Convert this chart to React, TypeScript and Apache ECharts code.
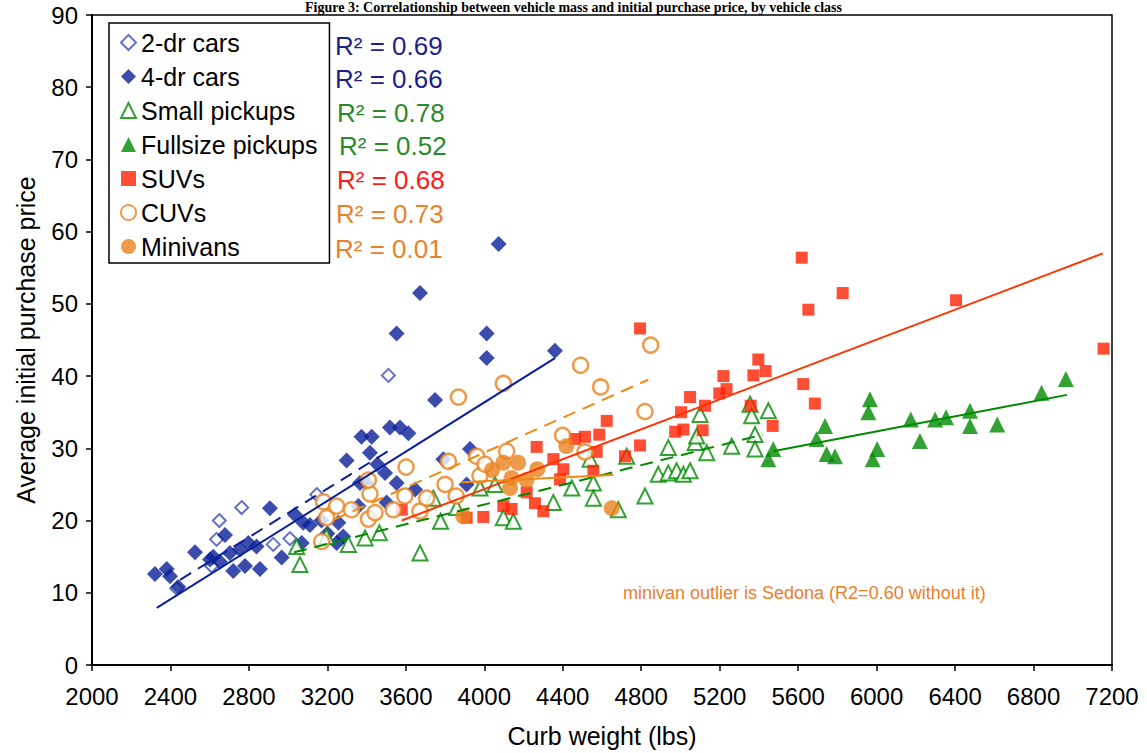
import React, { useEffect, useRef } from "react";
import * as echarts from "echarts";

// ---------- data ----------
const seriesNames = ["2-dr cars", "4-dr cars", "Small pickups", "Fullsize pickups", "SUVs", "CUVs", "Minivans"];

const cars2dr: number[][] = [
  [2432, 10.6], [2610, 13.7], [2635, 17.4], [2649, 20.0], [2763, 21.8], [2924, 16.7],
  [3009, 17.5], [3146, 23.6], [3511, 40.1],
];

const cars4dr: number[][] = [
  [2321, 12.6], [2381, 13.3], [2398, 12.3], [2440, 10.8], [2525, 15.6], [2602, 14.6],
  [2618, 15.0], [2652, 14.3], [2678, 18.0], [2703, 15.5], [2720, 13.0], [2754, 16.0],
  [2780, 13.7], [2797, 16.9], [2839, 16.4], [2856, 13.3], [2907, 21.7], [2967, 14.9],
  [3035, 20.8], [3077, 19.7], [3111, 19.4], [3069, 16.9], [3170, 20.0], [3200, 18.2],
  [3247, 16.9], [3256, 19.7], [3281, 17.8], [3298, 28.3], [3358, 22.0], [3366, 25.2],
  [3374, 31.6], [3426, 31.6], [3400, 25.2], [3417, 29.4], [3455, 27.8], [3494, 26.6],
  [3502, 22.5], [3519, 32.9], [3553, 25.2], [3570, 32.9], [3613, 32.1], [3647, 24.3],
  [3749, 36.7], [3791, 28.5], [3910, 25.0], [3927, 29.9], [3553, 45.9], [3672, 51.5],
  [4012, 45.9], [4012, 42.5], [4073, 58.3], [4360, 43.5],
];

const smallPickups: number[][] = [
  [3043, 16.4], [3060, 13.9], [3196, 17.8], [3307, 16.7], [3392, 17.6], [3465, 18.3],
  [3672, 15.5], [3740, 23.1], [3777, 19.9], [3859, 21.8], [3978, 24.5], [4054, 25.0],
  [4097, 20.4], [4148, 19.9], [4352, 22.5], [4446, 24.5], [4556, 25.2], [4539, 28.5],
  [4556, 23.1], [4683, 21.5], [4726, 28.9], [4819, 23.4], [4887, 26.4], [4938, 26.6],
  [4938, 30.1], [4980, 26.9], [5015, 26.4], [5049, 26.9], [5075, 30.8], [5083, 31.7],
  [5100, 34.7], [5134, 29.4], [5261, 30.3], [5355, 36.1], [5363, 34.5], [5380, 31.9],
  [5380, 29.9], [5448, 35.2],
];

const fullsizePickups: number[][] = [
  [5448, 28.5], [5473, 29.9], [5694, 31.3], [5737, 33.1], [5745, 29.2], [5788, 28.9],
  [5958, 35.0], [5966, 36.8], [5980, 28.5], [6003, 29.9], [6174, 34.0], [6221, 31.0],
  [6298, 34.0], [6354, 34.3], [6476, 35.2], [6476, 33.1], [6615, 33.3], [6841, 37.7],
  [6965, 39.6],
];

const suvs: number[][] = [
  [3579, 21.5], [3910, 20.4], [3995, 20.5], [4097, 22.0], [4139, 21.6], [4216, 23.9],
  [4258, 22.4], [4301, 21.3], [4267, 30.2], [4352, 28.5], [4386, 25.7], [4403, 27.1],
  [4462, 31.3], [4513, 31.6], [4556, 26.9], [4573, 29.5], [4586, 31.9], [4624, 33.8],
  [4717, 28.9], [4794, 30.4], [4794, 46.6], [4973, 32.3], [5003, 35.0], [5015, 32.6],
  [5049, 37.1], [5113, 32.5], [5125, 35.9], [5198, 37.6], [5219, 40.0], [5235, 38.2],
  [5358, 35.9], [5372, 40.1], [5397, 42.3], [5434, 40.7], [5470, 33.1], [5618, 56.4],
  [5626, 38.9], [5652, 49.2], [5685, 36.2], [5827, 51.5], [6405, 50.5], [7157, 43.8],
];

const cuvs: number[][] = [
  [3171, 17.1], [3180, 22.6], [3196, 20.4], [3247, 22.0], [3323, 21.5], [3409, 20.2],
  [3417, 23.7], [3409, 25.6], [3443, 21.1], [3536, 21.5], [3595, 23.4], [3601, 27.4],
  [3672, 21.3], [3706, 23.1], [3800, 25.0], [3817, 28.2], [3856, 23.4], [3868, 37.1],
  [3961, 28.9], [3978, 26.2], [4004, 27.8], [4097, 39.0], [4114, 29.6], [4399, 31.8],
  [4491, 41.5], [4513, 29.5], [4593, 38.5], [4819, 35.1], [4848, 44.3],
];

const minivans: number[][] = [
  [3893, 20.6], [4040, 27.0], [4097, 28.0], [4172, 28.0], [4131, 24.5], [4139, 25.9],
  [4215, 25.6], [4270, 27.1], [4418, 30.3], [4650, 21.7],
];

// trend-line end points
const trend2dr: number[][] = [[2449, 11.8], [3509, 29.6]];
const trend4dr: number[][] = [[2330, 7.9], [4360, 42.5]];
const trendSmall: number[][] = [[3030, 15.6], [5420, 31.9]];
const trendFull: number[][] = [[5472, 29.6], [6970, 37.4]];
const trendSuv: number[][] = [[3579, 20.0], [7154, 57.0]];
const trendCuv: number[][] = [[3230, 20.1], [4835, 39.5]];
const trendMinivan: number[][] = [[3885, 25.3], [4657, 26.3]];

const r2Labels = ["R² = 0.69", "R² = 0.66", "R² = 0.78", "R² = 0.52", "R² = 0.68", "R² = 0.73", "R² = 0.01"];

const xMin = 2000, xMax = 7200, xStep = 400;
const yMin = 0, yMax = 90, yStep = 10;

const titleText = "Figure 3: Correlationship between vehicle mass and initial purchase price, by vehicle class";
const noteText = "minivan outlier is Sedona (R2=0.60 without it)";

// ---------- styles ----------
const NAVY = "#0a1f99";
const NAVY_LIGHT = "#3f4fb5";
const GREEN = "#008a00";
const RED = "#ff2200";
const ORANGE = "#e8821e";
const FONT = "'Liberation Sans', Arial, Helvetica, sans-serif";

const r2Colors = ["#1c1f8c", "#1c1f8c", "#2a8a2a", "#2a8a2a", "#ff1a1a", "#e8822a", "#e8822a"];
const r2X = [335, 335, 337, 339, 337, 336, 335];
const r2Y = [46, 79, 113, 146, 180, 214, 249];

export default function App() {
  const ref = useRef<HTMLDivElement>(null);
  useEffect(() => {
    if (!ref.current) return;
    const chart = echarts.init(ref.current, null, { renderer: "svg" });

    const scatter = (name: string, data: number[][], symbol: string, size: number, style: any) => ({
      name,
      type: "scatter",
      data,
      symbol,
      symbolSize: size,
      itemStyle: style,
      emphasis: { disabled: true },
      silent: true,
      z: 3,
    });
    const trend = (data: number[][], color: string, dashed: boolean) => ({
      type: "line",
      data,
      symbol: "none",
      silent: true,
      z: 5,
      lineStyle: { color, width: 2, type: dashed ? [13, 8] : "solid" },
      emphasis: { disabled: true },
    });

    const option: any = {
      animation: false,
      textStyle: { fontFamily: FONT },
      grid: {
        left: 92, right: 35, top: 15, bottom: 88,
        show: true, borderColor: "#000", borderWidth: 1.5, backgroundColor: "transparent",
      },
      legend: {
        data: seriesNames,
        orient: "vertical",
        left: 109,
        top: 23,
        padding: [7, 12, 4, 11],
        itemGap: 9,
        itemWidth: 15,
        itemHeight: 15,
        borderColor: "#000",
        borderWidth: 1.5,
        backgroundColor: "#fff",
        selectedMode: false,
        textStyle: { fontSize: 25, lineHeight: 25, color: "#000", fontFamily: FONT },
      },
      xAxis: {
        type: "value",
        min: xMin, max: xMax, interval: xStep,
        name: "Curb weight (lbs)",
        nameLocation: "middle",
        nameGap: 58,
        nameTextStyle: { fontSize: 25, color: "#000", fontFamily: FONT },
        axisLine: { show: true, lineStyle: { color: "#000", width: 2 } },
        axisTick: { show: true, length: 6, lineStyle: { color: "#000", width: 1.5 } },
        axisLabel: { fontSize: 24, color: "#000", margin: 19, fontFamily: FONT, formatter: (v: number) => String(v) },
        splitLine: { show: false },
      },
      yAxis: {
        type: "value",
        min: yMin, max: yMax, interval: yStep,
        name: "Average initial purchase price",
        nameLocation: "middle",
        nameGap: 54,
        nameRotate: 90,
        nameTextStyle: { fontSize: 25, color: "#000", fontFamily: FONT },
        axisLine: { show: true, lineStyle: { color: "#000", width: 2 } },
        axisTick: { show: true, length: 6, lineStyle: { color: "#000", width: 1.5 } },
        axisLabel: { fontSize: 24, color: "#000", margin: 14, fontFamily: FONT },
        splitLine: { show: false },
      },
      series: [
        scatter(seriesNames[0], cars2dr, "diamond", 13, { color: "#fff", borderColor: NAVY_LIGHT, borderWidth: 2 }),
        scatter(seriesNames[1], cars4dr, "diamond", 16, { color: NAVY }),
        scatter(seriesNames[2], smallPickups, "triangle", 15, { color: "#fff", borderColor: GREEN, borderWidth: 2 }),
        scatter(seriesNames[3], fullsizePickups, "triangle", 16, { color: GREEN }),
        scatter(seriesNames[4], suvs, "rect", 12, { color: RED }),
        scatter(seriesNames[5], cuvs, "circle", 15, { color: "#fff", borderColor: ORANGE, borderWidth: 2.5 }),
        scatter(seriesNames[6], minivans, "circle", 16, { color: ORANGE }),
        trend(trend2dr, NAVY, true),
        trend(trend4dr, NAVY, false),
        trend(trendSmall, GREEN, true),
        trend(trendFull, GREEN, false),
        trend(trendSuv, "#ff3300", false),
        trend(trendCuv, "#ee8a10", true),
        trend(trendMinivan, "#ee8a10", false),
      ],
      graphic: [
        {
          type: "text",
          left: "center",
          top: 0,
          style: { text: titleText, fontSize: 14, fontWeight: "bold", fontFamily: "'Liberation Serif', 'Times New Roman', serif", fill: "#000" },
          silent: true,
        },
        ...r2Labels.map((t, i) => ({
          type: "text",
          x: r2X[i],
          y: r2Y[i],
          style: { text: t, fontSize: 26, fontFamily: FONT, fill: r2Colors[i], verticalAlign: "middle", align: "left" },
          silent: true,
          z: 10,
        })),
        {
          type: "text",
          x: 623,
          y: 593,
          style: { text: noteText, fontSize: 18, fontFamily: FONT, fill: "#ee7d2a", verticalAlign: "middle", align: "left" },
          silent: true,
        },
      ],
    };
    chart.setOption(option);
    return () => chart.dispose();
  }, []);
  return (
    <div
      ref={ref}
      style={{ position: "fixed", left: 0, top: 0, width: 1147, height: 753, background: "#fff" }}
    />
  );
}
